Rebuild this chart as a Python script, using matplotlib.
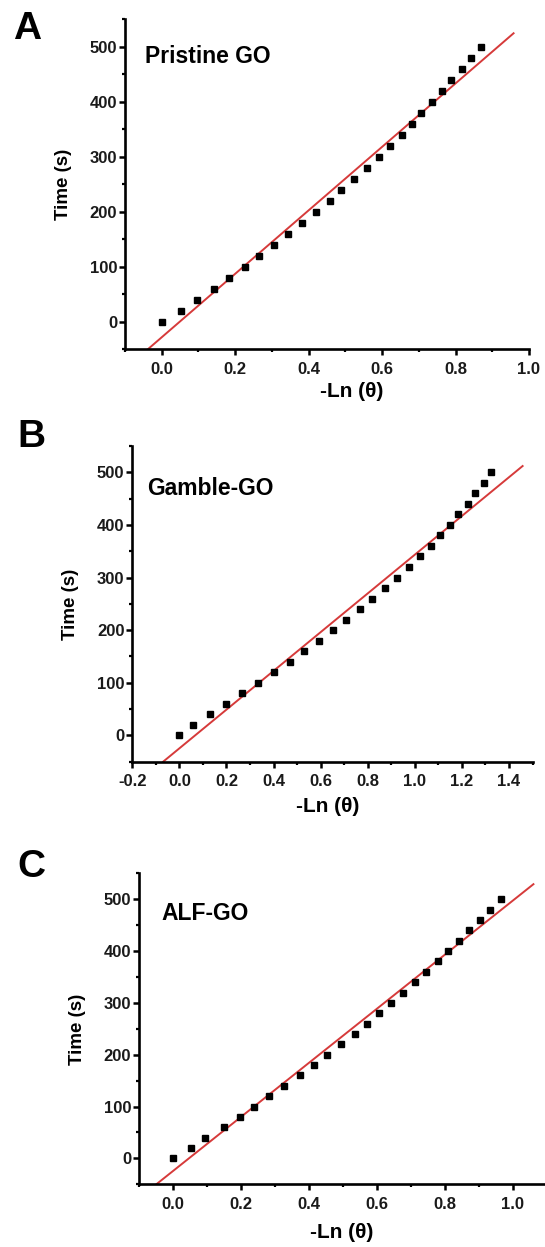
import numpy as np
import matplotlib
matplotlib.use("Agg")
import matplotlib.pyplot as plt
from matplotlib.ticker import MultipleLocator

plt.rcParams['font.family'] = ['Liberation Sans', 'DejaVu Sans']
plt.rcParams['font.weight'] = 'bold'

W, H = 545, 1247

# ---- data ----
time_s = [0, 20, 40, 60, 80, 100, 120, 140, 160, 180, 200, 220, 240,
          260, 280, 300, 320, 340, 360, 380, 400, 420, 440, 460, 480, 500]

x_pristine = [0.000, 0.053, 0.097, 0.143, 0.184, 0.226, 0.265, 0.307, 0.344,
              0.381, 0.420, 0.458, 0.488, 0.524, 0.560, 0.591, 0.622, 0.654,
              0.682, 0.706, 0.736, 0.763, 0.788, 0.817, 0.842, 0.870]
x_gamble = [0.000, 0.058, 0.130, 0.199, 0.267, 0.336, 0.403, 0.469, 0.531,
            0.592, 0.651, 0.708, 0.768, 0.818, 0.872, 0.925, 0.974, 1.021,
            1.067, 1.105, 1.151, 1.185, 1.224, 1.256, 1.293, 1.325]
x_alf = [0.000, 0.053, 0.094, 0.149, 0.196, 0.239, 0.283, 0.328, 0.373,
         0.414, 0.453, 0.496, 0.535, 0.571, 0.605, 0.642, 0.677, 0.711,
         0.746, 0.780, 0.810, 0.843, 0.872, 0.903, 0.932, 0.965]

panel_letters = ['A', 'B', 'C']
sample_names = ['Pristine GO', 'Gamble-GO', 'ALF-GO']
fit_slope = [577.3, 368.0, 521.6]
fit_intercept = [-28.1, -24.6, -24.4]
fit_xrange = [(-0.038, 0.958), (-0.069, 1.458), (-0.049, 1.061)]
xlims = [(-0.1, 1.0), (-0.2, 1.5), (-0.1, 1.1)]
ylim = (-50, 550)
xlabel = '-Ln (θ)'
ylabel = 'Time (s)'

# ---- layout (pixels) ----
axes_px = [(125, 529, 19.5, 349.3), (132.3, 532.5, 446, 761.7), (139, 546.7, 873.3, 1184.3)]
letter_px = [(13, 39), (17, 447), (17, 877)]
name_px = [(145, 63.3), (147.6, 495), (161.5, 920)]
xlabel_px = [(352, 382), (328, 797), (342, 1223)]
ylabel_px = [(72, 184.6), (79, 604), (86, 1029)]

fig = plt.figure(figsize=(W / 100, H / 100), dpi=100)

xs_all = [x_pristine, x_gamble, x_alf]
for i in range(3):
    l, r, t, b = axes_px[i]
    ax = fig.add_axes([l / W, 1 - b / H, (r - l) / W, (b - t) / H])
    ax.set_xlim(*xlims[i])
    ax.set_ylim(*ylim)
    ax.plot(xs_all[i], time_s, 's', color='black', markersize=4.0, zorder=3)
    fx = np.linspace(fit_xrange[i][0], fit_xrange[i][1], 50)
    ax.plot(fx, fit_slope[i] * fx + fit_intercept[i], '-', color='#d63a3a', lw=1.4, zorder=2)

    for s in ['top', 'right']:
        ax.spines[s].set_visible(False)
    for s in ['left', 'bottom']:
        ax.spines[s].set_linewidth(1.9)
    ax.xaxis.set_major_locator(MultipleLocator(0.2))
    ax.xaxis.set_minor_locator(MultipleLocator(0.1))
    ax.yaxis.set_major_locator(MultipleLocator(100))
    ax.yaxis.set_minor_locator(MultipleLocator(50))
    ax.tick_params(which='major', direction='out', length=4.2, width=1.8,
                   labelsize=12, colors='black', labelcolor='#1a1a1a')
    ax.tick_params(which='minor', direction='out', length=2.3, width=1.6)
    ax.tick_params(axis='x', pad=5)
    ax.tick_params(axis='y', pad=1.5)
    for lab in ax.get_xticklabels() + ax.get_yticklabels():
        lab.set_fontweight('bold')
    ax.xaxis.set_major_formatter(matplotlib.ticker.FormatStrFormatter('%.1f'))
    ax.yaxis.set_major_formatter(matplotlib.ticker.FormatStrFormatter('%d'))

    ax.set_xlabel(xlabel, fontsize=15, fontweight='bold')
    ax.xaxis.set_label_coords((xlabel_px[i][0] - l) / (r - l), (b - xlabel_px[i][1]) / (b - t))
    ax.set_ylabel(ylabel, fontsize=13.5, fontweight='bold')
    ax.yaxis.set_label_coords((ylabel_px[i][0] - l) / (r - l), (b - ylabel_px[i][1]) / (b - t))

    fig.text(letter_px[i][0] / W, 1 - letter_px[i][1] / H, panel_letters[i],
             fontsize=28, fontweight='bold', ha='left', va='baseline')
    fig.text(name_px[i][0] / W, 1 - name_px[i][1] / H, sample_names[i],
             fontsize=16.5, fontweight='bold', ha='left', va='baseline')

fig.savefig('out.png', dpi=100)
